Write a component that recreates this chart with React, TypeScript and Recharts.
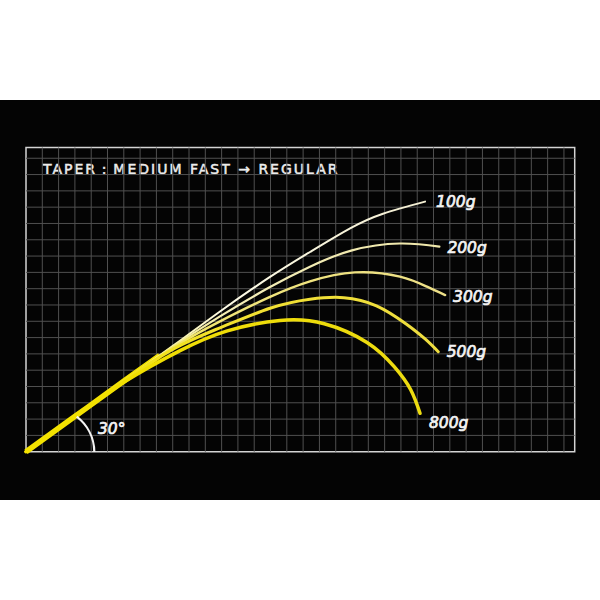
import * as React from "react";
import {
  LineChart,
  Line,
  XAxis,
  YAxis,
  ReferenceLine,
  ReferenceArea,
  ReferenceDot,
  Label,
} from "recharts";

// grid units: one cell of the chart's background grid
const X_MAX = 33.66;
const Y_MAX = 18.66;
const X_GRID = [1, 2, 3, 4, 5, 6, 7, 8, 9, 10, 11, 12, 13, 14, 15, 16, 17, 18, 19, 20, 21, 22, 23, 24, 25, 26, 27, 28, 29, 30, 31, 32, 33];
const Y_GRID = [1, 2, 3, 4, 5, 6, 7, 8, 9, 10, 11, 12, 13, 14, 15, 16, 17, 18];

const TITLE = "TAPER\u2009:\u2009MEDIUM FAST \u2192 REGULAR";
const ANGLE_LABEL = "30°";

const SERIES_NAMES = ["100g", "200g", "300g", "500g", "800g"];

// shared butt section of the rod (all loads)
const stem = [
  { x: 0, y: 0 },
  { x: 3.01, y: 2.17 },
  { x: 6.07, y: 4.38 },
  { x: 8.2, y: 5.9 },
];

const rod100 = [
  { x: 0, y: 0 },
  { x: 3.01, y: 2.17 },
  { x: 6.07, y: 4.38 },
  { x: 9.14, y: 6.58 },
  { x: 11.9, y: 8.6 },
  { x: 14.97, y: 10.72 },
  { x: 17.42, y: 12.25 },
  { x: 19.88, y: 13.7 },
  { x: 21.9, y: 14.6 },
  { x: 24.48, y: 15.34 },
];

const rod200 = [
  { x: 0, y: 0 },
  { x: 3.01, y: 2.17 },
  { x: 6.07, y: 4.38 },
  { x: 9.14, y: 6.52 },
  { x: 11.9, y: 8.3 },
  { x: 14.97, y: 10.1 },
  { x: 17.42, y: 11.35 },
  { x: 20.0, y: 12.35 },
  { x: 22.94, y: 12.77 },
  { x: 25.36, y: 12.58 },
];

const rod300 = [
  { x: 0, y: 0 },
  { x: 3.01, y: 2.17 },
  { x: 6.07, y: 4.38 },
  { x: 9.14, y: 6.45 },
  { x: 11.9, y: 8.0 },
  { x: 14.97, y: 9.5 },
  { x: 17.42, y: 10.45 },
  { x: 20.18, y: 11.0 },
  { x: 22.94, y: 10.74 },
  { x: 24.6, y: 10.12 },
  { x: 25.71, y: 9.61 },
];

const rod500 = [
  { x: 0, y: 0 },
  { x: 3.01, y: 2.17 },
  { x: 6.07, y: 4.38 },
  { x: 9.14, y: 6.35 },
  { x: 11.9, y: 7.6 },
  { x: 14.97, y: 8.8 },
  { x: 17.42, y: 9.35 },
  { x: 19.5, y: 9.45 },
  { x: 21.5, y: 8.95 },
  { x: 23.3, y: 7.85 },
  { x: 24.5, y: 6.9 },
  { x: 25.29, y: 6.13 },
];

const rod800 = [
  { x: 0, y: 0 },
  { x: 3.01, y: 2.17 },
  { x: 6.07, y: 4.3 },
  { x: 9.45, y: 6.2 },
  { x: 12.3, y: 7.4 },
  { x: 15.58, y: 8.05 },
  { x: 18.3, y: 7.85 },
  { x: 20.92, y: 6.7 },
  { x: 22.6, y: 5.2 },
  { x: 23.6, y: 3.8 },
  { x: 24.17, y: 2.36 },
];

const SERIES_DATA = [rod100, rod200, rod300, rod500, rod800];

// look of each curve: gradient stops, width, label nudge
const SERIES_STYLE = [
  { id: "g100", stops: ["#f6e500", "#f9f08c", "#fdfbe6", "#f3eed2"], width: 2, dx: 11, dy: 5 },
  { id: "g200", stops: ["#f6e500", "#f5ec80", "#f4eeb8", "#efe7aa"], width: 2.2, dx: 8, dy: 6.5 },
  { id: "g300", stops: ["#f6e500", "#f3e655", "#f0e47a", "#ede088"], width: 2.5, dx: 8, dy: 7 },
  { id: "g500", stops: ["#f6e500", "#f3e21a", "#f1e030", "#eedd40"], width: 3, dx: 8.5, dy: 5 },
  { id: "g800", stops: ["#f4e300", "#f1df00", "#efdd08", "#ecdb10"], width: 3.5, dx: 9, dy: 15 },
];

const LABEL_FONT = "'DejaVu Sans', sans-serif";

const makeEndLabel = (name: string, count: number, dx: number, dy: number) =>
  (props: any) => {
    const { x, y, index } = props;
    if (index !== count - 1) return <g />;
    return (
      <text
        x={x + dx}
        y={y + dy}
        fill="#f4f4f4"
        stroke="#f4f4f4"
        strokeWidth={0.7}
        fontFamily={LABEL_FONT}
        fontStyle="italic"
        fontSize={15.5}
      >
        {name}
      </text>
    );
  };

const AngleMark = (props: any) => {
  const { cx, cy } = props;
  return (
    <g>
      <path
        d={`M ${cx + 68.3} ${cy} A 44.9 44.9 0 0 0 ${cx + 50.7} ${cy - 35}`}
        fill="none"
        stroke="#f4f4f4"
        strokeWidth={2.2}
      />
      <text
        x={cx + 72}
        y={cy - 18}
        fill="#f4f4f4"
        stroke="#f4f4f4"
        strokeWidth={0.7}
        fontFamily={LABEL_FONT}
        fontStyle="italic"
        fontSize={15.5}
      >
        {ANGLE_LABEL}
      </text>
    </g>
  );
};

const TitleText = (props: any) => {
  const { viewBox } = props;
  return (
    <text
      x={viewBox.x + 17}
      y={viewBox.y + 26}
      fill="#ececec"
      stroke="#ececec"
      strokeWidth={0.5}
      fontFamily={LABEL_FONT}
      fontSize={14}
      letterSpacing={2}
    >
      {TITLE}
    </text>
  );
};

export default function App() {
  return (
    <div style={{ position: "absolute", left: 0, top: 0, width: 600, height: 600, background: "#fff" }}>
      <div style={{ position: "absolute", left: 0, top: 100, width: 600, height: 400, background: "#040404" }} />
      <div style={{ position: "absolute", left: 0, top: 0 }}>
        <LineChart width={600} height={600} margin={{ top: 147.5, right: 25.3, bottom: 148.3, left: 26 }}>
          <defs>
            {SERIES_STYLE.map((s) => (
              <linearGradient key={s.id} id={s.id} x1="0" y1="0" x2="1" y2="0">
                <stop offset="0%" stopColor={s.stops[0]} />
                <stop offset="30%" stopColor={s.stops[1]} />
                <stop offset="50%" stopColor={s.stops[2]} />
                <stop offset="100%" stopColor={s.stops[3]} />
              </linearGradient>
            ))}
          </defs>
          <XAxis type="number" dataKey="x" domain={[0, X_MAX]} hide />
          <YAxis type="number" dataKey="y" domain={[0, Y_MAX]} hide />
          {X_GRID.map((v) => (
            <ReferenceLine key={"vx" + v} x={v} stroke="#505050" strokeWidth={1} />
          ))}
          {Y_GRID.map((v) => (
            <ReferenceLine key={"hy" + v} y={v} stroke="#505050" strokeWidth={1} />
          ))}
          <ReferenceArea x1={0} x2={X_MAX} y1={0} y2={Y_MAX} fill="none" stroke="#d4d4d4" strokeWidth={1.5}>
            <Label content={<TitleText />} />
          </ReferenceArea>
          <ReferenceDot x={0} y={0} r={1} shape={<AngleMark />} />
          <Line
            data={stem}
            dataKey="y"
            type="natural"
            stroke="#f5e400"
            strokeWidth={5.5}
            dot={false}
            isAnimationActive={false}
          />
          {SERIES_DATA.map((d, i) => {
            const s = SERIES_STYLE[i];
            return (
              <Line
                key={SERIES_NAMES[i]}
                name={SERIES_NAMES[i]}
                data={d}
                dataKey="y"
                type="natural"
                stroke={`url(#${s.id})`}
                strokeWidth={s.width}
                strokeLinecap="round"
                dot={false}
                isAnimationActive={false}
                label={makeEndLabel(SERIES_NAMES[i], d.length, s.dx, s.dy)}
              />
            );
          })}
        </LineChart>
      </div>
    </div>
  );
}
